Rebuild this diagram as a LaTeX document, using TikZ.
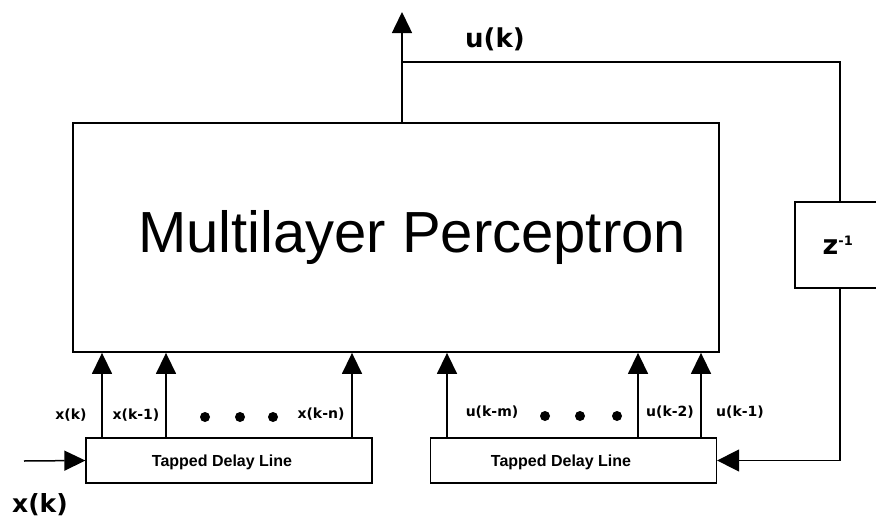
\documentclass[tikz,border=0pt]{standalone}
\usepackage{fontspec}
\setmainfont{Liberation Sans}
\newfontfamily\labfont{DejaVu Sans}
\usetikzlibrary{positioning,arrows.meta}

\tikzset{
  blk/.style={draw, line width=1.6pt, inner sep=0pt},
  tdl/.style={blk, line width=1.3pt, minimum width=286pt, minimum height=45pt},
  tdltxt/.style={font=\bfseries\fontsize{16}{18}\selectfont},
  tap/.style={-{Triangle[width=20pt,length=21pt]}, line width=1.5pt},
  wire/.style={line width=1.5pt},
  lab/.style={font=\labfont\bfseries\fontsize{14}{16}\selectfont, inner sep=1pt},
  biglab/.style={font=\labfont\bfseries\fontsize{25}{27}\selectfont, inner sep=1pt},
  dot/.style={circle, fill, inner sep=0pt, minimum size=10pt}
}

\begin{document}
\begin{tikzpicture}[x=1pt, y=-1pt]
  \useasboundingbox (0,0) rectangle (876,522);

  % network and delay lines
  \node[blk, line width=1.8pt, minimum width=646pt, minimum height=229pt] (mlp) at (396,237.5) {};
  \node[anchor=base, font=\fontsize{58}{62}\selectfont] (mlptxt) at (412,252) {Multilayer Perceptron};
  \node[tdl] (tdlx) at (229,460.5) {};
  \node[tdl] (tdlu) at (573.5,460.5) {};
  \node[tdltxt] (tdlxtxt) at (222,462) {Tapped Delay Line};
  \node[tdltxt] (tdlutxt) at (561,462) {Tapped Delay Line};
  \node[blk, minimum width=87pt, minimum height=86pt] (zdel) at (838.5,245) {};
  \node[biglab, font=\labfont\bfseries\fontsize{27}{29}\selectfont] (ztxt) at (838,245)
    {z\textsuperscript{\fontsize{13}{13}\selectfont -1}};

  % output and feedback
  \coordinate (uout) at (402,12);
  \coordinate (split) at (402,62);
  \coordinate (corner) at (840,62);
  \draw[tap] (mlp.north -| uout) -- (uout);
  \draw[wire] (split) -- (corner) -- (zdel.north -| corner);
  \draw[wire, -{Triangle[width=22pt,length=22pt]}] (zdel.south -| corner) |- (tdlu.east);
  \node[biglab, font=\labfont\bfseries\fontsize{26}{28}\selectfont] (ulab) at (495,39) {u(k)};

  % input
  \coordinate (xin) at (24,461);
  \draw[tap] (xin) -- (tdlx.west);
  \node[biglab] (xlab) at (40,505) {x(k)};

  % taps into the network
  \foreach \tx in {102,166,352}
    \draw[tap] (tdlx.north -| \tx,0) -- (mlp.south -| \tx,0);
  \foreach \tx in {447,638,701}
    \draw[tap] (tdlu.north -| \tx,0) -- (mlp.south -| \tx,0);

  \node[lab] (lx0) at (71,415) {x(k)};
  \node[lab] (lx1) at (136,415) {x(k-1)};
  \node[lab] (lxn) at (321,414) {x(k-n)};
  \node[lab] (lum) at (492,412) {u(k-m)};
  \node[lab] (lu2) at (670,412) {u(k-2)};
  \node[lab] (lu1) at (740,412) {u(k-1)};

  \foreach \dx in {205,240,273}
    \node[dot] at (\dx,417) {};
  \foreach \dx in {545,580,617}
    \node[dot] at (\dx,416) {};
\end{tikzpicture}
\end{document}
